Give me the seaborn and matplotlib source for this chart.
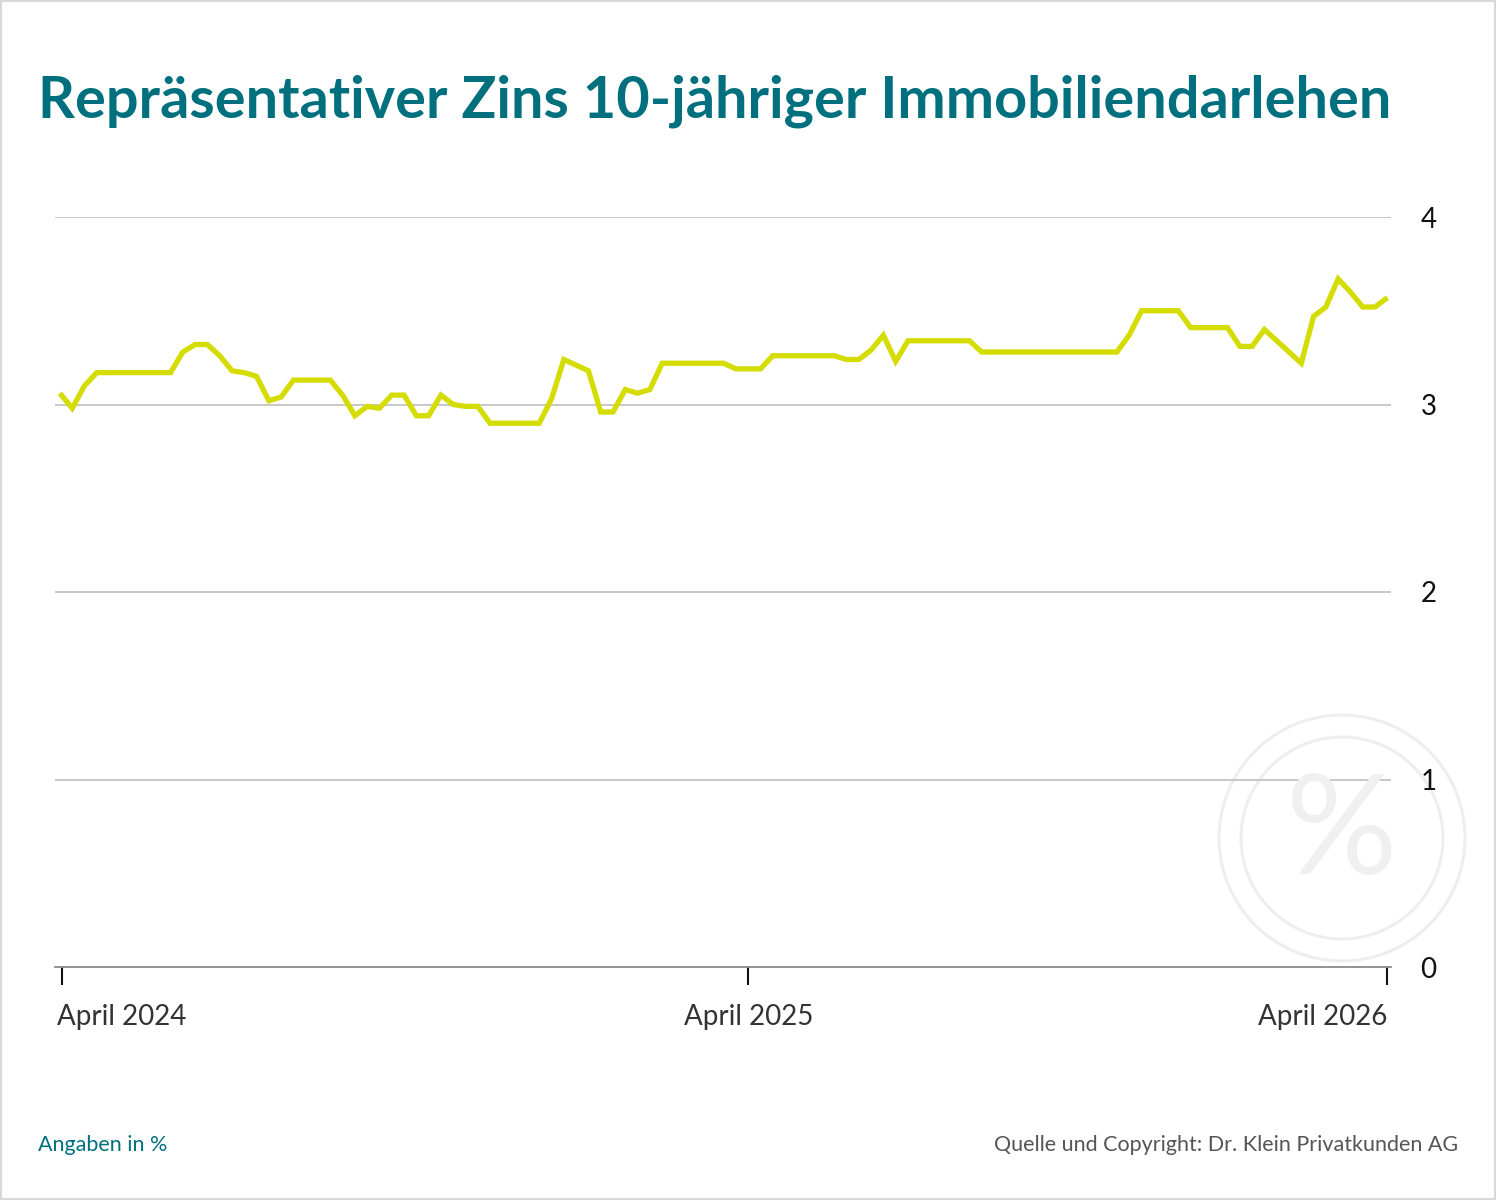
import numpy as np
import pandas as pd
import matplotlib
matplotlib.use('Agg')
import matplotlib.pyplot as plt
from matplotlib.patches import Ellipse, Rectangle
import matplotlib.transforms as mtrans
import seaborn as sns

# ── DATEN ─────────────────────────────────────────────────────────────────────
zins = [3.06, 2.98, 3.10, 3.17, 3.17, 3.17, 3.17, 3.17, 3.17, 3.17,
        3.28, 3.32, 3.32, 3.26, 3.18, 3.17, 3.15, 3.02, 3.04, 3.13,
        3.13, 3.13, 3.13, 3.05, 2.94, 2.99, 2.98, 3.05, 3.05, 2.94,
        2.94, 3.05, 3.00, 2.99, 2.99, 2.90, 2.90, 2.90, 2.90, 2.90,
        3.03, 3.24, 3.21, 3.18, 2.96, 2.96, 3.08, 3.06, 3.08, 3.22,
        3.22, 3.22, 3.22, 3.22, 3.22, 3.19, 3.19, 3.19, 3.26, 3.26,
        3.26, 3.26, 3.26, 3.26, 3.24, 3.24, 3.29, 3.37, 3.23, 3.34,
        3.34, 3.34, 3.34, 3.34, 3.34, 3.28, 3.28, 3.28, 3.28, 3.28,
        3.28, 3.28, 3.28, 3.28, 3.28, 3.28, 3.28, 3.37, 3.50, 3.50,
        3.50, 3.50, 3.41, 3.41, 3.41, 3.41, 3.31, 3.31, 3.40, 3.34,
        3.28, 3.22, 3.47, 3.52, 3.67, 3.60, 3.52, 3.52, 3.57]
woche = list(range(len(zins)))

x_tick_pos = [0.15, 56, 108]
x_tick_labels = ['April 2024', 'April 2025', 'April 2026']
y_ticks = [0, 1, 2, 3, 4]

df = pd.DataFrame({'woche': woche, 'zins': zins})

TEAL = '#00707f'
LINIE = '#d4dc00'
TEXT = '#333333'

# ── PLOT ──────────────────────────────────────────────────────────────────────
sns.set_style('white')
plt.rcParams['font.family'] = ['Lato', 'DejaVu Sans']

fig = plt.figure(figsize=(14.96, 12), dpi=100)
ax = fig.add_axes([55/1496, 1 - 967/1200, (1391 - 55)/1496, (967 - 217)/1200])

# Wasserzeichen
cx, cy = 1342/1496, 1 - 838/1200
for r in (123, 101):
    fig.add_artist(Ellipse((cx, cy), 2*r/1496, 2*r/1200, transform=fig.transFigure,
                           fill=False, ec='#eeeeee', lw=2.2, zorder=0))
fig.text(cx, cy + 0.003, '%', transform=fig.transFigure, ha='center', va='center',
         fontsize=100, fontweight='normal', color='#f0f0f0', zorder=0)

ax.patch.set_alpha(0)
for yv in y_ticks[1:]:
    ax.axhline(yv, color='#c4c4c4', lw=1.3, zorder=1)

sns.lineplot(data=df, x='woche', y='zins', color=LINIE, lw=3.8, ax=ax,
             solid_joinstyle='miter', solid_capstyle='butt', zorder=3)

ax.set_xlim(-0.4, 108.3)
ax.set_ylim(0, 4)
for s in ['top', 'left', 'right']:
    ax.spines[s].set_visible(False)
ax.spines['bottom'].set_color('#8a8a8a')
ax.spines['bottom'].set_linewidth(1.3)

ax.set_yticks(y_ticks)
ax.set_yticklabels([str(v) for v in y_ticks])
ax.yaxis.tick_right()
ax.tick_params(axis='y', length=0, pad=27, labelsize=20, labelcolor='#111111')
for lab in ax.get_yticklabels():
    lab.set_ha('center')
ax.set_ylabel('')
ax.set_xlabel('')

ax.set_xticks(x_tick_pos)
ax.set_xticklabels(x_tick_labels)
ax.xaxis.set_ticks_position('bottom')
ax.tick_params(axis='x', bottom=True, direction='out', length=13, width=1.5,
               color='#111111', pad=14, labelsize=20, labelcolor=TEXT)
labels = ax.get_xticklabels()
labels[0].set_ha('left')
labels[0].set_transform(labels[0].get_transform() +
                        mtrans.ScaledTranslation(-5/100, 0, fig.dpi_scale_trans))
labels[2].set_ha('right')

# ── TEXTE ─────────────────────────────────────────────────────────────────────
fig.text(38/1496, 1 - 117/1200, 'Repräsentativer Zins 10-jähriger Immobiliendarlehen',
         fontsize=41.5, fontweight='bold', color=TEAL, ha='left', va='baseline')
fig.text(38/1496, 1 - 1151/1200, 'Angaben in %', fontsize=15.5, color=TEAL,
         ha='left', va='baseline')
fig.text(1458/1496, 1 - 1151/1200, 'Quelle und Copyright: Dr. Klein Privatkunden AG',
         fontsize=15.5, color='#555555', ha='right', va='baseline')

fig.add_artist(Rectangle((0, 0), 1, 1, transform=fig.transFigure, fill=False,
                         ec='#d9d9d9', lw=3))

plt.savefig('out.png', dpi=100)
plt.close()
